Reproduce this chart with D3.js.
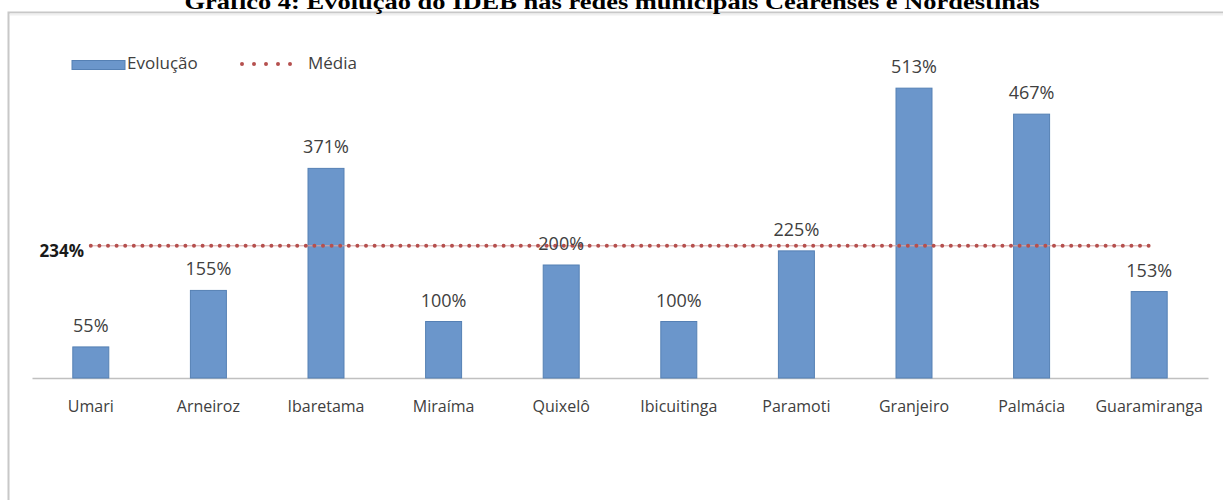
<!DOCTYPE html>
<html>
<head>
<meta charset="utf-8">
<script src="https://cdn.jsdelivr.net/npm/d3@7"></script>
<style>
  html, body { margin: 0; padding: 0; background: #fff; }
  svg { display: block; }
</style>
</head>
<body>
<div id="chart"></div>
<script>
const title = "Gráfico 4: Evolução do IDEB nas redes municipais Cearenses e Nordestinas";
const categories = ["Umari", "Arneiroz", "Ibaretama", "Miraíma", "Quixelô", "Ibicuitinga", "Paramoti", "Granjeiro", "Palmácia", "Guaramiranga"];
const evolucao = [55, 155, 371, 100, 200, 100, 225, 513, 467, 153];
const media = 234;
const seriesNames = ["Evolução", "Média"];

const W = 1223, H = 500;
const svg = d3.select("#chart").append("svg").attr("width", W).attr("height", H);

// frame
svg.append("rect").attr("x", 8.5).attr("y", 12.5).attr("width", W + 20).attr("height", H + 20)
  .attr("fill", "none").attr("stroke", "#c8c8c8").attr("stroke-width", 2);
svg.append("line").attr("x1", 10).attr("x2", W).attr("y1", 14.5).attr("y2", 14.5)
  .attr("stroke", "#f0f0f0").attr("stroke-width", 2);

// title (top cropped, as in the reference)
svg.append("text").attr("x", 612).attr("y", 9).attr("text-anchor", "middle")
  .attr("font-family", "'Liberation Serif', 'Times New Roman', serif").attr("font-weight", "bold")
  .attr("font-size", 22).attr("textLength", 855).attr("lengthAdjust", "spacingAndGlyphs")
  .attr("fill", "#000").text(title);

const x = d3.scaleBand().domain(categories).range([32, 1208]).paddingInner(0.694).paddingOuter(0.347);
const y = d3.scaleLinear().domain([0, 600]).range([378, 39]);

const font = "'Open Sans', 'DejaVu Sans', sans-serif";

// axis baseline
const axis = d3.axisBottom(x).tickSize(0).tickPadding(0);
const gAxis = svg.append("g").attr("transform", `translate(0,${y(0)})`).call(axis);
gAxis.select(".domain").attr("stroke", "#c0c0c0").attr("stroke-width", 1.5);
gAxis.selectAll(".tick text").attr("font-family", font).attr("font-size", 16)
  .attr("fill", "#404040").attr("dy", 0).attr("y", 34);

// bars
svg.append("g").selectAll("rect").data(evolucao).join("rect")
  .attr("x", (d, i) => x(categories[i]))
  .attr("y", d => y(d))
  .attr("width", x.bandwidth())
  .attr("height", d => y(0) - y(d))
  .attr("fill", "#6b96cb").attr("stroke", "#5580b4").attr("stroke-width", 1);

// average line
const xFirst = x(categories[0]) + x.bandwidth() / 2;
const xLast = x(categories[categories.length - 1]) + x.bandwidth() / 2;
svg.append("line").attr("x1", xFirst).attr("x2", xLast).attr("y1", y(media)).attr("y2", y(media))
  .attr("stroke", "#d8a6a5").attr("stroke-width", 1);
svg.append("line").attr("x1", xFirst).attr("x2", xLast).attr("y1", y(media)).attr("y2", y(media))
  .attr("stroke", "#b5504e").attr("stroke-width", 4).attr("stroke-linecap", "round")
  .attr("stroke-dasharray", "0 8.6");

// value labels
svg.append("g").selectAll("text").data(evolucao).join("text")
  .attr("x", (d, i) => x(categories[i]) + x.bandwidth() / 2)
  .attr("y", d => y(d) - 15)
  .attr("text-anchor", "middle")
  .attr("font-family", font).attr("font-size", 18).attr("fill", "#404040")
  .text(d => d + "%");

// average label
svg.append("text").attr("x", 84).attr("y", y(media) + 11).attr("text-anchor", "end")
  .attr("font-family", font).attr("font-size", 17).attr("font-weight", "bold").attr("fill", "#1a1a1a")
  .text(media + "%");

// legend
const lg = svg.append("g");
lg.append("rect").attr("x", 72).attr("y", 60.5).attr("width", 53).attr("height", 9)
  .attr("fill", "#6b96cb").attr("stroke", "#5580b4").attr("stroke-width", 1);
lg.append("text").attr("x", 127).attr("y", 69).attr("font-family", font).attr("font-size", 17)
  .attr("fill", "#404040").text(seriesNames[0]);
lg.append("line").attr("x1", 242).attr("x2", 302).attr("y1", 64).attr("y2", 64)
  .attr("stroke", "#b5504e").attr("stroke-width", 4).attr("stroke-linecap", "round")
  .attr("stroke-dasharray", "0 12");
lg.append("text").attr("x", 308).attr("y", 69).attr("font-family", font).attr("font-size", 17)
  .attr("fill", "#404040").text(seriesNames[1]);
</script>
</body>
</html>
